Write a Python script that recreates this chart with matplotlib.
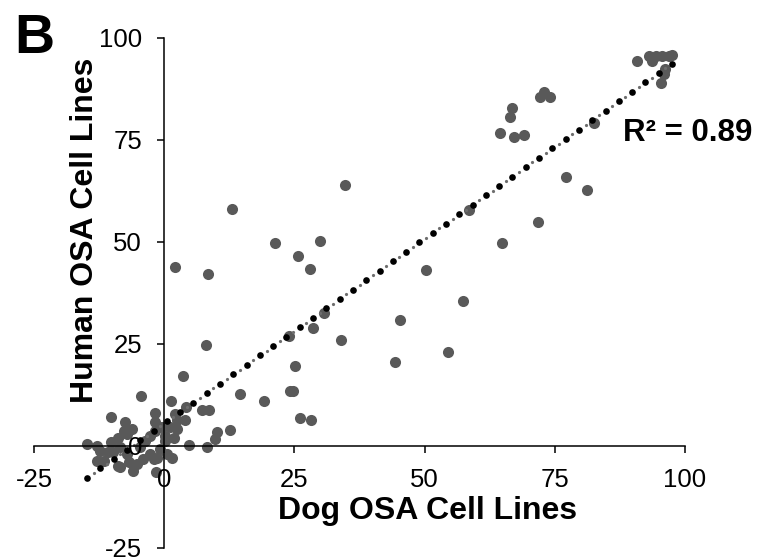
import numpy as np
import matplotlib
matplotlib.use("Agg")
import matplotlib.pyplot as plt

plt.rcParams['font.family'] = ['Liberation Sans', 'DejaVu Sans']
plt.rcParams['axes.unicode_minus'] = False

# % values (dog vs human OSA cell lines)
dog = [-14.8, -12.9, -12.3, -12.9, -11.6, -10.7, -10.3, -10.3, -9.8, -8.8,
       -8.8, -8.5, -8.5, -7.8, -7.5, -7.1, -7.1, -6.8, -6.2, -5.9,
       -5.3, -4.6, -4.4, -4.0, -3.6, -2.7, -2.7, -2.0, -1.8, -1.8,
       -1.8, -1.5, -1.4, -0.8, -0.5, 0.2, 0.2, 0.5, 1.2, 1.4,
       1.5, 1.8, 2.1, 2.4, 2.4, 4.0, 4.2, 4.7, 7.2, 8.7,
       8.2, 9.7, 10.1, 12.6, 14.6, 19.2, 3.7, 8.1, 24.1, 24.7,
       26.0, 28.1, 25.1, 23.9, 28.5, 30.6, 33.9, 34.8, 13.0, 21.3,
       30.0, 25.7, 28.0, 2.1, 8.5, 45.2, 44.4, 54.5, 50.2, 57.3,
       58.5, 64.9, 71.8, 77.2, 81.2, 82.5, 64.5, 67.2, 69.0, 66.4,
       66.7, 72.1, 72.9, 74.0, 90.8, 93.0, 93.7, 94.4, 95.6, 96.9,
       97.5, 96.2, 95.9, 95.3]
human = [0.3, 0.0, -1.2, -3.7, -3.7, -1.6, 0.8, 7.1, -1.6, 2.0,
         -4.9, -0.4, -5.3, 3.7, 5.7, 2.9, -2.0, -4.1, 4.1, -6.1,
         -4.5, -0.4, 12.3, -3.3, 1.2, 2.5, -2.0, -3.3, 7.9, 5.7,
         3.7, -6.5, -2.9, -0.8, 4.5, 2.5, 1.2, -2.0, 4.5, 10.9,
         -2.9, 2.0, 7.8, 4.1, 6.3, 6.3, 9.4, 0.2, 8.7, 8.7,
         -0.2, 1.6, 3.3, 3.9, 12.7, 11.0, 17.2, 24.8, 13.5, 13.5,
         6.7, 6.4, 19.6, 27.0, 28.8, 32.5, 26.0, 63.9, 58.0, 49.8,
         50.2, 46.5, 43.3, 43.7, 42.2, 30.8, 20.6, 23.0, 43.1, 35.4,
         57.8, 49.7, 54.9, 65.9, 62.7, 79.2, 76.6, 75.6, 76.2, 80.5,
         82.8, 85.5, 86.6, 85.5, 94.2, 95.6, 94.4, 95.6, 95.6, 95.6,
         95.8, 92.3, 91.1, 89.0]
r2_text = "R\u00b2 = 0.89"
ticks = [-25, 0, 25, 50, 75, 100]

dog = np.array(dog)
human = np.array(human)

fig = plt.figure(figsize=(7.6, 5.59), dpi=100)
ax = fig.add_axes([0.0447, 0.0202, 0.8566, 0.9124])

ax.scatter(dog, human, s=64, color='#595959', linewidths=0, zorder=1)

# linear trendline, drawn as round dots (black) with small grey dots between
slope, icpt = np.polyfit(dog, human, 1)
n = 44
t = np.linspace(dog.min(), dog.max(), n + 1)
mid = (t[:-1] + t[1:]) / 2
ax.plot(mid, slope * mid + icpt, 'o', ms=2.3, mew=0, color='#6e6e6e', zorder=2)
ax.plot(t, slope * t + icpt, 'o', ms=4.8, mew=0, color='black', zorder=2.1)

ax.set_xlim(-25, 100)
ax.set_ylim(-25, 100)
ax.set_xticks(ticks)
ax.set_yticks(ticks)
ax.spines['left'].set_position(('data', 0))
ax.spines['bottom'].set_position(('data', 0))
ax.spines['top'].set_visible(False)
ax.spines['right'].set_visible(False)
for s in ['left', 'bottom']:
    ax.spines[s].set_linewidth(1.1)
ax.tick_params(direction='out', length=5, width=1.1, labelsize=18.5, pad=11)
ax.patch.set_alpha(0)

ax.text(0.604, 0.072, 'Dog OSA Cell Lines', transform=ax.transAxes,
        ha='center', va='center', fontsize=23, fontweight='bold')
ax.text(0.078, 0.623, 'Human OSA Cell Lines', transform=ax.transAxes,
        ha='center', va='center', rotation=90, fontsize=23, fontweight='bold')

fig.text(0.820, 0.762, r2_text, ha='left', va='center', fontsize=22.5,
         fontweight='bold')
fig.text(0.019, 0.905, 'B', ha='left', va='baseline', fontsize=40,
         fontweight='bold')

fig.savefig('out.png', dpi=100)
